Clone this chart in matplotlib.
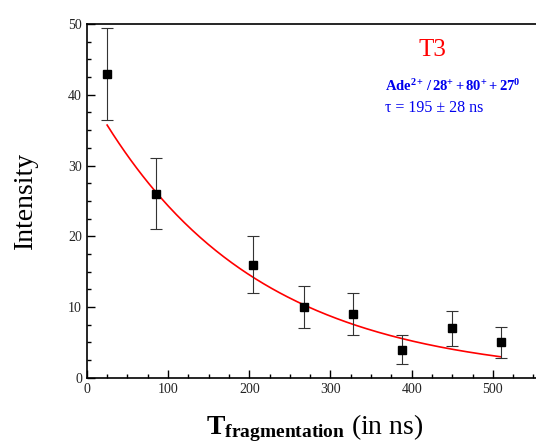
import numpy as np
import matplotlib.pyplot as plt
from matplotlib.ticker import MultipleLocator

plt.rcParams['font.family'] = ['Liberation Serif', 'DejaVu Serif']
plt.rcParams['mathtext.fontset'] = 'custom'
plt.rcParams['mathtext.rm'] = 'Liberation Serif'
plt.rcParams['mathtext.it'] = 'Liberation Serif:italic'
plt.rcParams['mathtext.bf'] = 'Liberation Serif:bold'

# data
t_frag = [25, 85, 205, 267, 328, 388, 450, 510]
intensity = [43, 26, 16, 10, 9, 4, 7, 5]
err_low = [6.5, 5, 4, 3, 3, 2, 2.5, 2.2]
err_high = [6.5, 5, 4, 3, 3, 2, 2.5, 2.2]

# exponential fit parameters
fit_amp = 40.6
fit_tau = 195
fit_t = np.linspace(25, 510, 200)
fit_y = fit_amp * np.exp(-fit_t / fit_tau)

fig = plt.figure(figsize=(5.36, 4.44), dpi=100)
ax = fig.add_axes([0.162, 0.149, 0.85, 0.797])

ax.plot(fit_t, fit_y, color='red', lw=1.2)
ax.errorbar(t_frag, intensity, yerr=[err_low, err_high], fmt='s', color='black',
            ms=6, elinewidth=0.8, ecolor='#333333', capsize=4, capthick=0.8)

ax.set_xlim(0, 561)
ax.set_ylim(0, 50)
ax.xaxis.set_major_locator(MultipleLocator(100))
ax.xaxis.set_minor_locator(MultipleLocator(25))
ax.yaxis.set_major_locator(MultipleLocator(10))
ax.yaxis.set_minor_locator(MultipleLocator(2.5))
ax.tick_params(which='both', direction='in', top=False, right=False,
               labelsize=10, labelcolor='#222222')
ax.tick_params(which='major', length=6, width=1)
ax.tick_params(which='minor', length=3, width=1)
for s in ax.spines.values():
    s.set_linewidth(1.2)

ax.set_ylabel("Intensity", fontsize=20, labelpad=22)
ax.set_xlabel(r"$\mathbf{T}_{\mathbf{fragmentation}}$ (in ns)", fontsize=20, labelpad=12)

ax.text(0.806, 0.887, "T3", color='red', fontsize=18, ha='center', va='center',
        transform=fig.transFigure)
ax.text(0.718, 0.806,
        r"$\mathbf{Ade^{2+}\,/\,28^{+}+80^{+}+27^{0}}$",
        color='#0000ee', fontsize=10.5, transform=fig.transFigure, va='center')
ax.text(0.718, 0.757, "τ = 195 ± 28 ns", color='#0000ee', fontsize=11.5,
        transform=fig.transFigure, va='center')

fig.savefig("out.png", dpi=100)
